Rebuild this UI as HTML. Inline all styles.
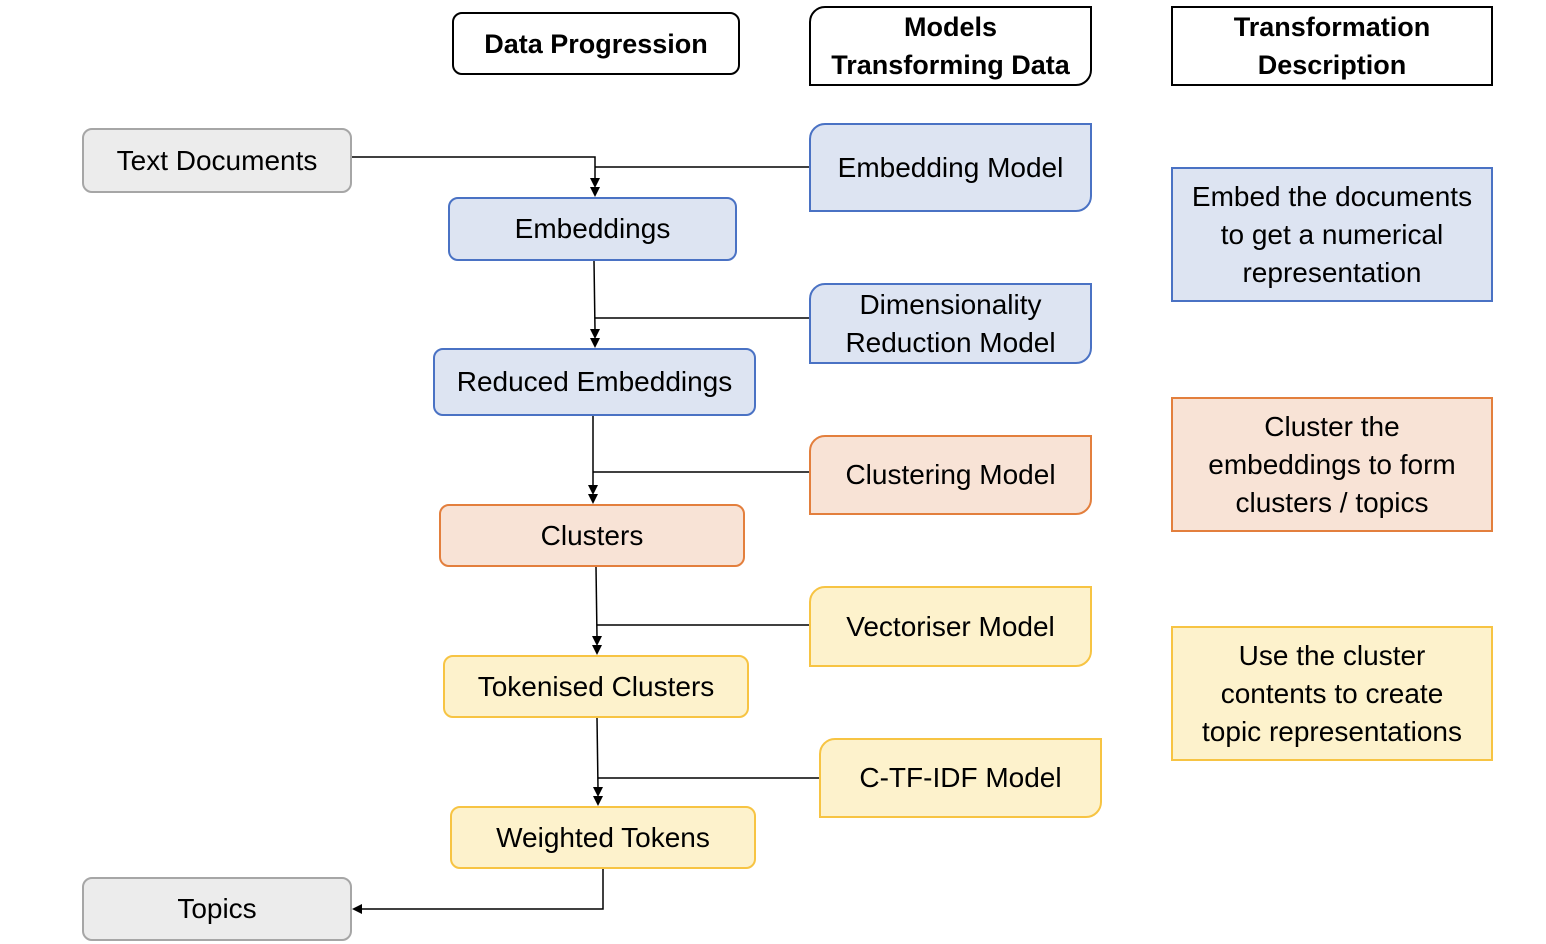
<!DOCTYPE html>
<html><head><meta charset="utf-8"><style>
body{margin:0;width:1546px;height:944px;background:#fff;position:relative;overflow:hidden;font-family:"Liberation Sans",sans-serif;}
.b{position:absolute;box-sizing:border-box;display:flex;align-items:center;justify-content:center;text-align:center;font-size:28px;line-height:38px;color:#000;}
.h{border:2px solid #000;font-weight:bold;background:#fff;font-size:27px;}
.g{background:#ececec;border:2px solid #a6a6a6;border-radius:10px;}
.bl{background:#dde4f2;border:2px solid #4a72c4;}
.or{background:#f8e3d6;border:2px solid #e37f3d;}
.ye{background:#fdf2cc;border:2px solid #f7c443;}
.r{border-radius:10px;}
.m{border-radius:16px 0 16px 0;}
svg{position:absolute;left:0;top:0;}
</style></head><body>
<svg width="1546" height="944">
<g stroke="#000" stroke-width="1.5" fill="none">
<polyline points="352,157 595,157 595,180"/>
<line x1="809" y1="167" x2="595" y2="167"/>
<line x1="594" y1="261" x2="595" y2="330"/>
<line x1="809" y1="318" x2="595" y2="318"/>
<line x1="593" y1="416" x2="593" y2="486"/>
<line x1="809" y1="472" x2="593" y2="472"/>
<line x1="596" y1="567" x2="597" y2="637"/>
<line x1="809" y1="625" x2="597" y2="625"/>
<line x1="597" y1="718" x2="598" y2="788"/>
<line x1="819" y1="778" x2="598" y2="778"/>
<polyline points="603,869 603,909 362,909"/>
</g>
<g fill="#000">
<polygon points="590,178 600,178 595,188"/><polygon points="590,187 600,187 595,197"/>
<polygon points="590,329 600,329 595,339"/><polygon points="590,338 600,338 595,348"/>
<polygon points="588,485 598,485 593,495"/><polygon points="588,494 598,494 593,504"/>
<polygon points="592,636 602,636 597,646"/><polygon points="592,645 602,645 597,655"/>
<polygon points="593,787 603,787 598,797"/><polygon points="593,796 603,796 598,806"/>
<polygon points="362,904 362,914 352,909"/>
</g>
</svg>
<div class="b h r" style="left:452px;top:12px;width:288px;height:63px;">Data Progression</div>
<div class="b h m" style="left:809px;top:6px;width:283px;height:80px;">Models<br>Transforming Data</div>
<div class="b h" style="left:1171px;top:6px;width:322px;height:80px;">Transformation<br>Description</div>
<div class="b g" style="left:82px;top:128px;width:270px;height:65px;">Text Documents</div>
<div class="b bl r" style="left:448px;top:197px;width:289px;height:64px;">Embeddings</div>
<div class="b bl r" style="left:433px;top:348px;width:323px;height:68px;">Reduced Embeddings</div>
<div class="b or r" style="left:439px;top:504px;width:306px;height:63px;">Clusters</div>
<div class="b ye r" style="left:443px;top:655px;width:306px;height:63px;">Tokenised Clusters</div>
<div class="b ye r" style="left:450px;top:806px;width:306px;height:63px;">Weighted Tokens</div>
<div class="b g" style="left:82px;top:877px;width:270px;height:64px;">Topics</div>
<div class="b bl m" style="left:809px;top:123px;width:283px;height:89px;">Embedding Model</div>
<div class="b bl m" style="left:809px;top:283px;width:283px;height:81px;">Dimensionality<br>Reduction Model</div>
<div class="b or m" style="left:809px;top:435px;width:283px;height:80px;">Clustering Model</div>
<div class="b ye m" style="left:809px;top:586px;width:283px;height:81px;">Vectoriser Model</div>
<div class="b ye m" style="left:819px;top:738px;width:283px;height:80px;">C-TF-IDF Model</div>
<div class="b bl" style="left:1171px;top:167px;width:322px;height:135px;">Embed the documents<br>to get a numerical<br>representation</div>
<div class="b or" style="left:1171px;top:397px;width:322px;height:135px;">Cluster the<br>embeddings to form<br>clusters / topics</div>
<div class="b ye" style="left:1171px;top:626px;width:322px;height:135px;">Use the cluster<br>contents to create<br>topic representations</div>
</body></html>
